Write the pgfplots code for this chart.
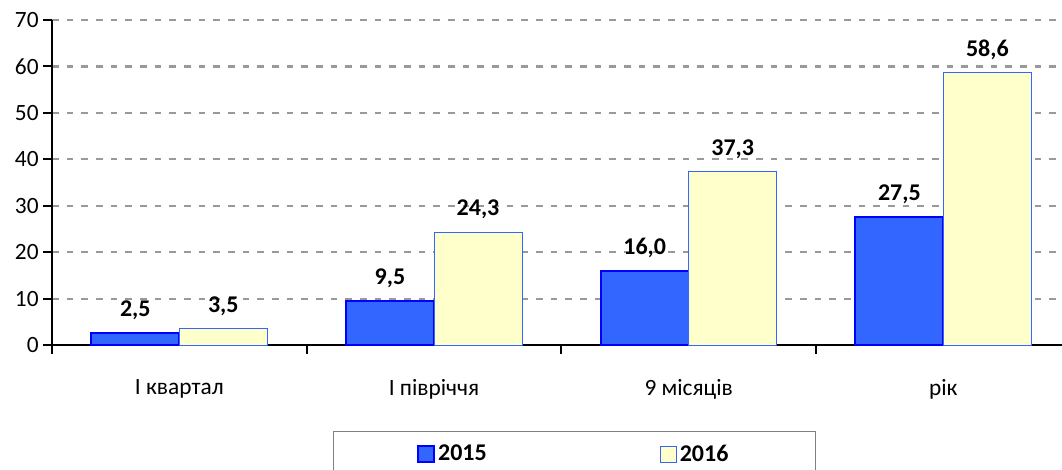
\documentclass[border=0pt]{standalone}
\usepackage{fontspec}
\setmainfont{Carlito}
\usepackage{pgfplots}
\pgfplotsset{compat=1.18}
\definecolor{blueA}{HTML}{3366FF}
\definecolor{blueB}{HTML}{0000FF}
\definecolor{yel}{HTML}{FFFFCC}
\definecolor{gridc}{HTML}{999999}
\definecolor{legc}{HTML}{808080}
\pgfplotsset{sqlegend/.style={legend image code/.code={\draw[##1] (0pt,-6pt) rectangle (12pt,6pt);}}}
\begin{document}
\begin{tikzpicture}
\begin{axis}[
  at={(0pt,0pt)}, anchor=south west,
  scale only axis, width=757.5pt, height=243.75pt,
  xmin=-0.5, xmax=3.466, ymin=0, ymax=70,
  enlargelimits=false,
  ybar=0pt, bar width=66pt,
  axis x line=bottom, axis y line=left,
  axis line style={black, line width=1.5pt, -},
  tick align=outside,
  major tick length=6.5pt,
  tick style={black, line width=1.5pt},
  ytick={0,10,...,70},
  ymajorgrids,
  grid style={gridc, line width=1.6pt, dash pattern=on 5pt off 6pt},
  xtick={-0.5,0.5,1.5,2.5},
  xticklabels={},
  extra x ticks={0,1,2,3},
  extra x tick labels={І квартал, І півріччя, 9 місяців, рік},
  extra x tick style={major tick length=0pt, xticklabel style={yshift=-22pt}},
  tick label style={font=\fontsize{17.5}{20}\selectfont},
  /pgf/number format/assume math mode=true,
  nodes near coords={\pgfmathprintnumber[fixed,fixed zerofill,precision=1,use comma,assume math mode=true]{\pgfplotspointmeta}},
  nodes near coords style={font=\bfseries\fontsize{18}{20}\selectfont, text=black, yshift=6pt},
  legend columns=2,
  legend style={at={(0.2782,-0.2646)}, anchor=north west, draw=legc, line width=0.75pt,
    font=\bfseries\fontsize{18}{20}\selectfont, inner xsep=63pt, inner ysep=8pt,
    /tikz/every even column/.append style={column sep=128pt}},
]
\addplot[fill=blueA, draw=blueB, line width=1.5pt, sqlegend] coordinates {(0,2.5) (1,9.5) (2,16.0) (3,27.5)};
\addlegendentry{2015}
\addplot[fill=yel, draw=blueA, line width=0.75pt, sqlegend] coordinates {(0,3.5) (1,24.3) (2,37.3) (3,58.6)};
\addlegendentry{2016}
\end{axis}
\pgfresetboundingbox
\useasboundingbox (-39pt,-93pt) rectangle (757.5pt,258.75pt);
\end{tikzpicture}
\end{document}
